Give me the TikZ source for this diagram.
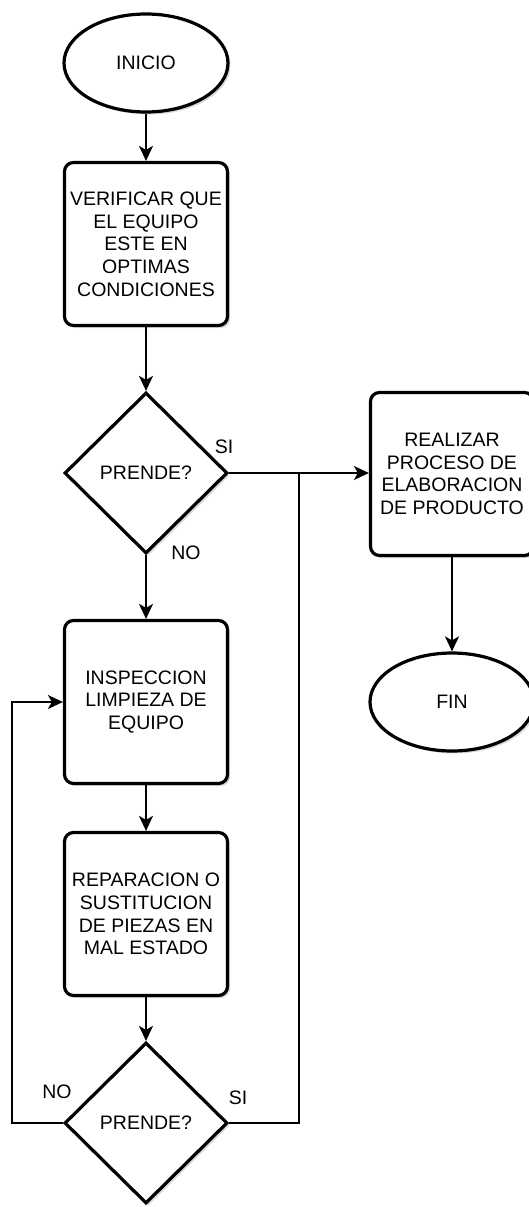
\documentclass[tikz,border=0pt]{standalone}
\usepackage{fontspec}
\setmainfont{Liberation Sans}
\usetikzlibrary{shapes.geometric,arrows.meta,shadows}

\tikzset{
  base/.style={draw=black, line width=3.2pt, fill=white,
    drop shadow={opacity=0.3, shadow xshift=2.5pt, shadow yshift=-2.5pt},
    font=\fontsize{19.5}{22.7}\selectfont, align=center, inner sep=0pt},
  terminal/.style={base, ellipse, minimum width=164pt, minimum height=98pt},
  process/.style={base, rectangle, rounded corners=9pt, minimum width=163pt, minimum height=163pt},
  decision/.style={base, diamond, minimum width=163pt, minimum height=161pt, aspect=1},
  flow/.style={line width=2pt, -{Stealth[length=15pt,width=14pt,inset=4pt]}},
  plain/.style={line width=2pt},
  tag/.style={font=\fontsize{19.5}{22.7}\selectfont, inner sep=0pt}
}

\begin{document}
\begin{tikzpicture}[x=1pt, y=-1pt]
  \useasboundingbox (0,0) rectangle (528,1207);

  % main column
  \node[terminal] (inicio) at (146,63) {INICIO};
  \node[process]  (verif)  at (146,244) {VERIFICAR QUE\\EL EQUIPO\\ESTE EN\\OPTIMAS\\CONDICIONES};
  \node[decision] (d1)     at (146,473) {PRENDE?};
  \node[process]  (insp)   at (146,702) {INSPECCION\\LIMPIEZA DE\\EQUIPO};
  \node[process]  (repar)  at (146,914) {REPARACION O\\SUSTITUCION\\DE PIEZAS EN\\MAL ESTADO};
  \node[decision] (d2)     at (146,1123) {PRENDE?};

  % right column
  \node[process]  (real)   at (452,474) {REALIZAR\\PROCESO DE\\ELABORACION\\DE PRODUCTO};
  \node[terminal] (fin)    at (452,702) {FIN};

  % connector waypoints
  \coordinate (j1) at (299,473);
  \coordinate (l1) at (12,1123);
  \coordinate (l2) at (12,702);

  % connectors
  \draw[flow] (inicio) -- (verif);
  \draw[flow] (verif) -- (d1);
  \draw[flow] (d1.east) -- (real.west |- d1.east);
  \draw[flow] (d1) -- (insp);
  \draw[flow] (insp) -- (repar);
  \draw[flow] (repar) -- (d2);
  \draw[flow] (real) -- (fin);
  \draw[plain] (d2.east) -| (j1);
  \draw[flow] (d2.west) -- (l1) -- (l2) -- (insp.west);

  % branch labels
  \node[tag] (si1) at (224,447) {SI};
  \node[tag] (no1) at (186,553) {NO};
  \node[tag] (no2) at (57,1092) {NO};
  \node[tag] (si2) at (238,1098) {SI};
\end{tikzpicture}
\end{document}
